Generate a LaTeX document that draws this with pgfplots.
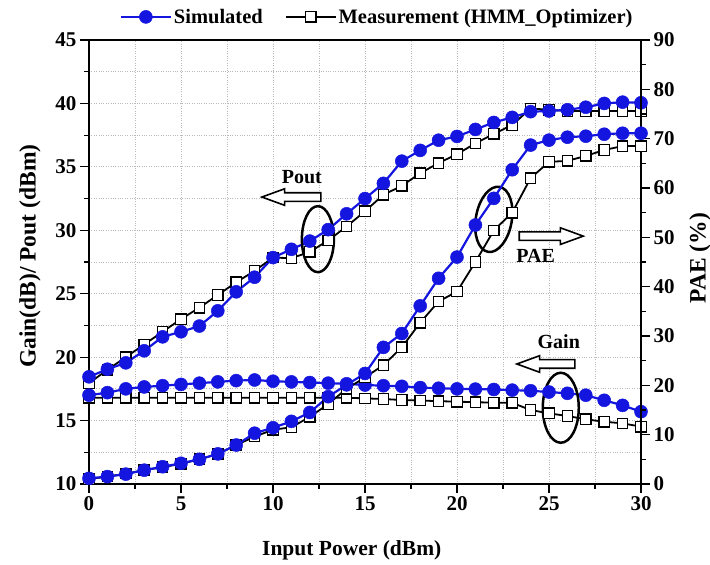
\documentclass[border=0pt]{standalone}
\usepackage{fontspec}
\setmainfont{Liberation Serif}
\usepackage{pgfplots}
\usepackage{pgfplotstable}
\pgfplotsset{compat=1.18}
\usetikzlibrary{shapes.arrows}
\definecolor{simblue}{HTML}{1515E0}
\newcommand\tickfont{\fontsize{21bp}{25bp}\selectfont\bfseries}
\newcommand\labfont{\fontsize{21.5bp}{25bp}\selectfont\bfseries}
\newcommand\vlabfont{\fontsize{23.5bp}{27bp}\selectfont\bfseries}
\newcommand\legfont{\fontsize{20.5bp}{24bp}\selectfont\bfseries}
\newcommand\notefont{\fontsize{20bp}{24bp}\selectfont\bfseries}

% x, Pout sim/meas, Gain sim/meas, PAE sim/meas
\pgfplotstableread{
x  ps     pm     gs     gm     es    em
0  18.45  17.95  17.00  16.80  1.15  1.0
1  19.05  19.00  17.20  16.80  1.5   1.5
2  19.55  20.00  17.50  16.80  2.0   2.1
3  20.50  21.00  17.65  16.80  2.8   2.8
4  21.60  22.00  17.75  16.80  3.5   3.4
5  22.00  23.00  17.85  16.80  4.2   4.1
6  22.45  23.90  17.95  16.80  5.0   5.0
7  23.65  24.90  18.05  16.80  6.1   6.1
8  25.15  25.90  18.15  16.80  7.9   7.9
9  26.30  26.80  18.20  16.80  10.3  9.6
10 27.85  27.85  18.10  16.80  11.4  11.0
11 28.50  27.80  18.05  16.80  12.7  11.5
12 29.15  28.30  18.00  16.80  14.5  13.6
13 30.05  29.20  17.95  16.80  17.7  16.2
14 31.30  30.30  17.90  16.80  20.1  19.3
15 32.50  31.50  17.80  16.75  22.4  21.6
16 33.70  32.80  17.75  16.70  27.7  24.1
17 35.45  33.50  17.70  16.62  30.5  27.7
18 36.30  34.50  17.60  16.58  36.1  32.7
19 37.10  35.30  17.55  16.53  41.7  37.0
20 37.40  36.00  17.50  16.49  46.0  39.0
21 37.95  36.85  17.48  16.45  52.5  45.0
22 38.50  37.60  17.45  16.41  57.9  51.4
23 38.90  38.30  17.40  16.40  63.7  55.0
24 39.35  39.60  17.35  15.83  68.7  62.0
25 39.40  39.50  17.25  15.57  69.7  65.3
26 39.50  39.40  17.15  15.36  70.3  65.5
27 39.70  39.40  17.00  15.10  70.5  66.5
28 40.00  39.40  16.60  14.91  70.9  67.7
29 40.10  39.40  16.20  14.78  71.1  68.5
30 40.05  39.40  15.70  14.52  71.1  68.5
}\pa

\pgfplotsset{
  sim/.style={color=simblue, line width=2.2bp, mark=*, mark size=6.5bp,
    mark options={fill=simblue, draw=simblue, line width=0.5bp}},
  meas/.style={color=black, line width=1.8bp, mark=square*, mark size=5.2bp,
    mark options={fill=white, draw=black, line width=1.3bp}},
  common/.style={scale only axis, width=552bp, height=444bp,
    xmin=0, xmax=30, tick align=outside,
    major tick length=9bp, minor tick length=5bp,
    every tick/.style={black, line width=1.2bp},
    axis line style={line width=1.6bp},
    tick label style={font=\tickfont},
    /pgf/number format/assume math mode=true},
}
\tikzset{
  harrow/.style={single arrow, draw=black, fill=white, line width=1.6bp,
    minimum height=#1, single arrow head extend=4bp, single arrow tip angle=40,
    inner sep=3.5bp},
}

\begin{document}
\begin{tikzpicture}
\begin{axis}[common,
  ymin=10, ymax=45,
  xtick={0,5,...,30}, ytick={10,15,...,45},
  minor x tick num=1, minor y tick num=1,
  xtick pos=bottom, ytick pos=left,
  grid=both, major grid style={gray!55, dotted, line width=0.9bp},
  minor grid style={gray!55, dotted, line width=0.9bp},
  xlabel={Input Power (dBm)}, ylabel={Gain(dB)/ Pout (dBm)},
  xlabel style={font=\labfont, at={(axis description cs:0.476,-0.149)}, anchor=center},
  ylabel style={font=\vlabfont, at={(axis description cs:-0.107,0.513)}, anchor=center},
  legend style={at={(axis description cs:0.522,1.052)}, anchor=center,
    draw=none, fill=none, font=\legfont, legend columns=2,
    /tikz/every even column/.append style={column sep=20bp}},
  legend image code/.code={\draw[mark repeat=2,mark phase=2,#1]
    plot coordinates {(0bp,0bp) (25bp,0bp) (50bp,0bp)};},
]
\addlegendimage{sim}\addlegendentry{Simulated}
\addlegendimage{meas}\addlegendentry{Measurement (HMM\_Optimizer)}
\addplot[meas, forget plot] table[x=x, y=pm] {\pa};
\addplot[meas, forget plot] table[x=x, y=gm] {\pa};
\addplot[sim, forget plot] table[x=x, y=ps] {\pa};
\addplot[sim, forget plot] table[x=x, y=gs] {\pa};

% annotations
\draw[line width=2.5bp] (axis cs:12.44,29.3) ellipse [x radius=16bp, y radius=33bp];
\draw[line width=2.5bp, rotate around={-10:(axis cs:22.0,30.86)}] (axis cs:22.0,30.86) ellipse [x radius=18bp, y radius=33bp];
\draw[line width=2.5bp] (axis cs:25.64,16.01) ellipse [x radius=18bp, y radius=35bp];
\node[harrow=59bp, shape border rotate=180] at (axis cs:11.32,32.62) {};
\node[harrow=64bp] at (axis cs:24.8,29.54) {};
\node[harrow=58bp, shape border rotate=180] at (axis cs:25.15,19.46) {};
\node[font=\notefont] at (axis cs:11.57,34.19) {Pout};
\node[font=\notefont] at (axis cs:24.28,27.97) {PAE};
\node[font=\notefont] at (axis cs:25.53,21.21) {Gain};
\end{axis}

\begin{axis}[common,
  ymin=0, ymax=90,
  axis x line=none, axis y line*=right,
  ytick={0,10,...,90}, minor y tick num=1,
  ylabel={PAE (\%)},
  ylabel style={font=\vlabfont, at={(axis description cs:1.107,0.509)}, anchor=center},
]
\addplot[meas] table[x=x, y=em] {\pa};
\addplot[sim] table[x=x, y=es] {\pa};
\end{axis}
\pgfresetboundingbox
\path[use as bounding box] (-89bp,-81bp) rectangle (621bp,484bp);
\end{tikzpicture}
\end{document}
